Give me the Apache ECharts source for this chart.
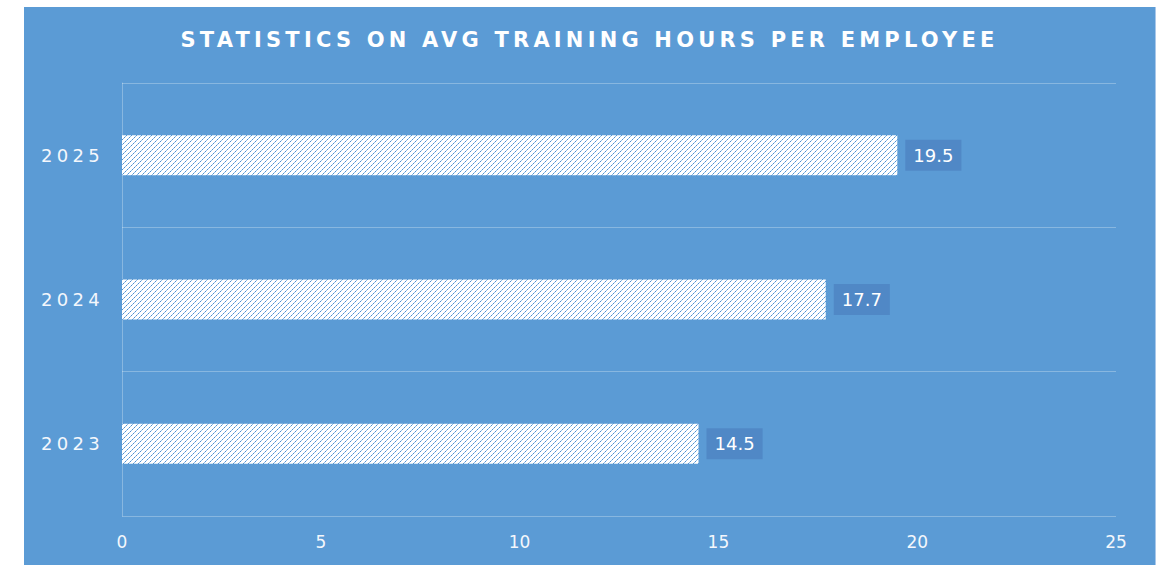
<!DOCTYPE html>
<html>
<head>
<meta charset="utf-8">
<script src="https://cdn.jsdelivr.net/npm/echarts@6/dist/echarts.min.js"></script>
<style>
	html, body { margin: 0; padding: 0; background: #ffffff; }
	#chart_box {
		position: absolute; left: 24px; top: 7px;
		width: 1131px; height: 558px;
		background: #5b9bd5;
		border-right: 1px solid #a9c8ea;
	}
	/* letter spacing on the title and on the year labels (svg text) */
	#chart_box text[style*="bold"] { letter-spacing: 4.2px; }
	#chart_box text[style*="Verdana"] { letter-spacing: 4.3px; }
</style>
</head>
<body>
<div id="chart_box"></div>
<script>
var titleText = 'STATISTICS ON AVG TRAINING HOURS PER EMPLOYEE';
var years = ['2023', '2024', '2025'];
var hours = [14.5, 17.7, 19.5];
var tickValues = [0, 5, 10, 15, 20, 25];

// hatch pattern: white with blue "/" dotted lines
function makeHatch() {
	var c = document.createElement('canvas');
	c.width = 10;
	c.height = 10;
	var ctx = c.getContext('2d');
	ctx.fillStyle = '#ffffff';
	ctx.fillRect(0, 0, 10, 10);
	for (var y = 0; y < 10; y++) {
		for (var x = 0; x < 10; x++) {
			if ((x + y) % 5 == 0) {
				ctx.fillStyle = (y % 2 == 0) ? '#4a8fd2' : '#8fbbe6';
				ctx.fillRect(x, y, 1, 1);
			}
		}
	}
	return c.toDataURL();
}

var myChart = echarts.init(document.getElementById('chart_box'), null, { renderer: 'svg' });

var option = {
	animation: false,
	title: {
		text: titleText,
		left: 'center',
		top: 17,
		textStyle: {
			color: '#ffffff',
			fontFamily: 'DejaVu Sans',
			fontWeight: 'bold',
			fontSize: 21
		}
	},
	grid: {
		left: 98,
		right: 39,
		top: 76,
		bottom: 49
	},
	xAxis: {
		type: 'value',
		min: tickValues[0],
		max: tickValues[tickValues.length - 1],
		interval: 5,
		axisLine: { show: false },
		axisTick: { show: false },
		splitLine: { show: false },
		axisLabel: {
			color: '#f4f7fc',
			fontFamily: 'DejaVu Sans',
			fontSize: 17,
			margin: 17
		}
	},
	yAxis: {
		type: 'category',
		data: years,
		axisLine: {
			show: true,
			lineStyle: { color: 'rgba(255,255,255,0.28)', width: 1 }
		},
		axisTick: { show: false },
		splitLine: {
			show: true,
			lineStyle: { color: 'rgba(255,255,255,0.28)', width: 1 }
		},
		axisLabel: {
			color: '#f4f7fc',
			fontFamily: 'Verdana, DejaVu Sans',
			fontSize: 18,
			margin: 18
		}
	},
	series: [{
		name: 'Avg training hours',
		type: 'bar',
		data: hours,
		barWidth: 40,
		itemStyle: {
			color: { image: makeHatch(), repeat: 'repeat' }
		},
		label: {
			show: true,
			position: 'right',
			distance: 8,
			color: '#ffffff',
			fontFamily: 'DejaVu Sans',
			fontSize: 18,
			backgroundColor: '#5088c6',
			padding: [7, 8, 6, 8]
		}
	}]
};

myChart.setOption(option);
</script>
</body>
</html>
